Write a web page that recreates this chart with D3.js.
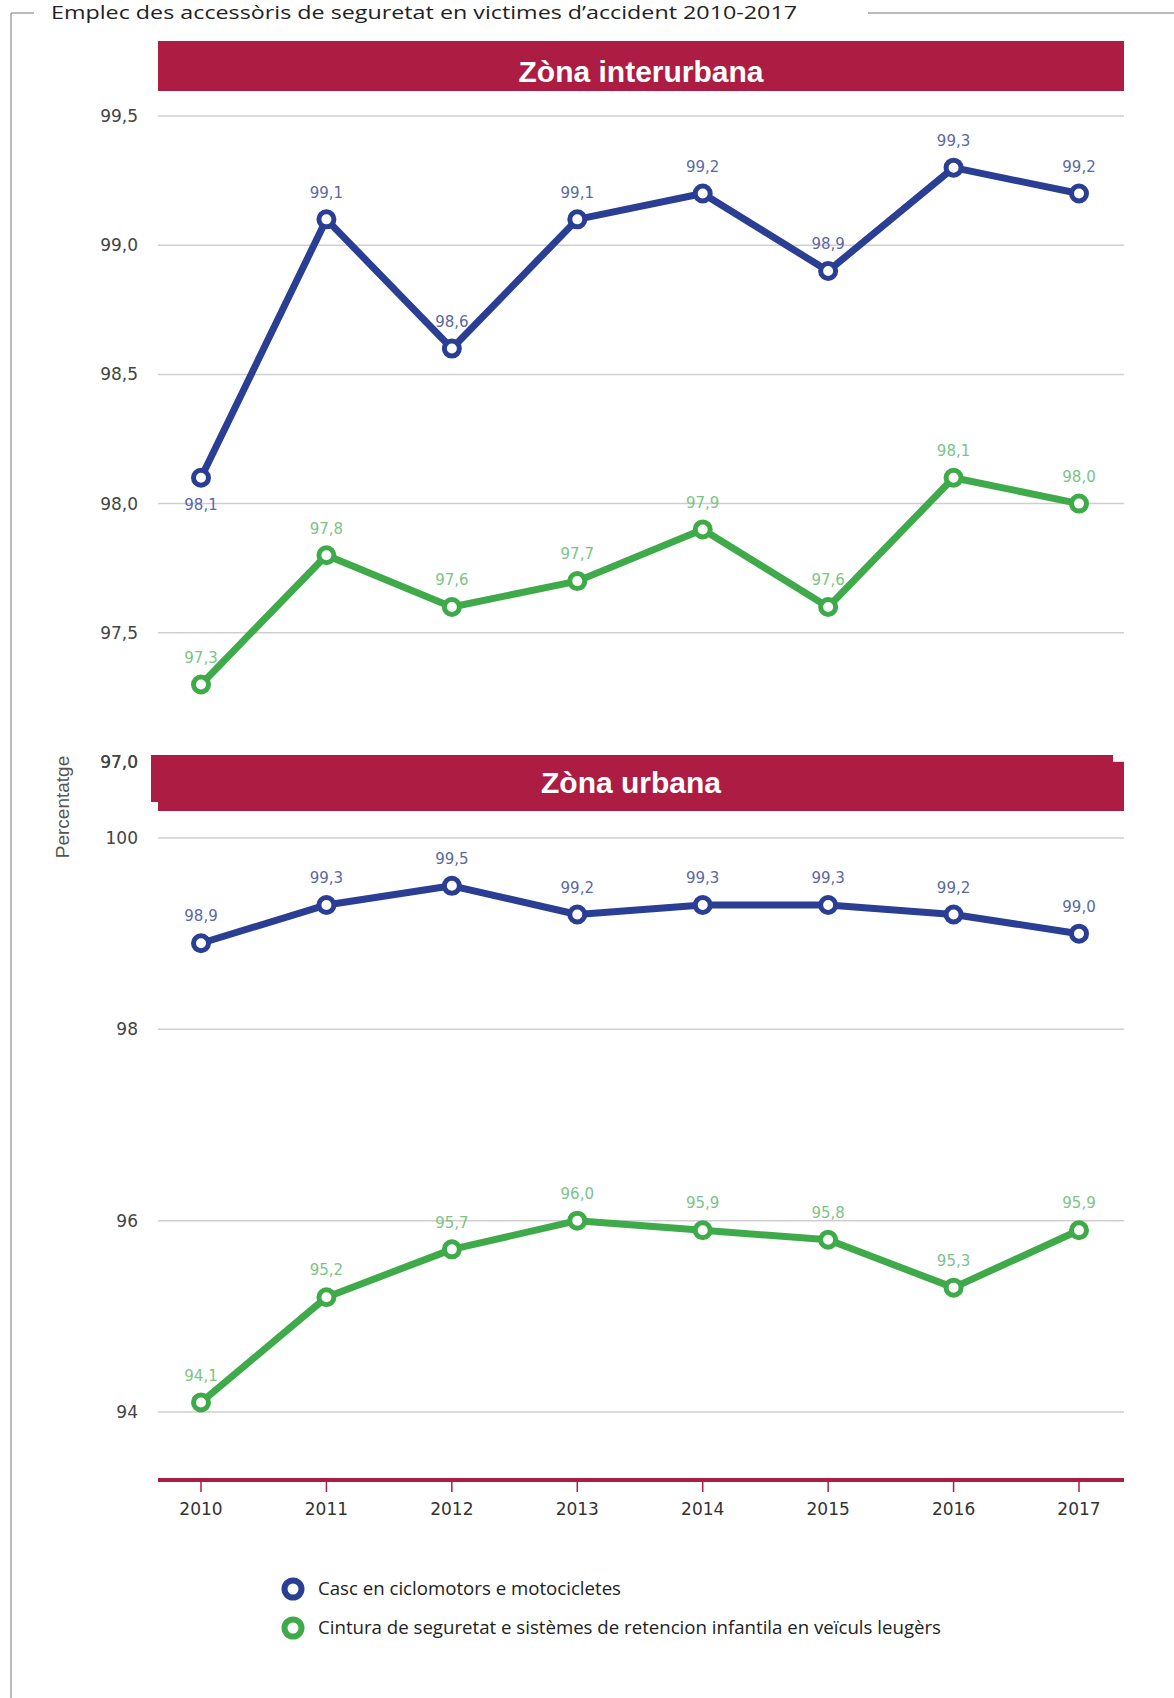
<!DOCTYPE html>
<html><head><meta charset="utf-8">
<script src="https://cdn.jsdelivr.net/npm/d3@7/dist/d3.min.js"></script>
<style>
html,body{margin:0;padding:0;background:#fff;}
svg{display:block;}
</style></head>
<body>
<script>
const years = ["2010","2011","2012","2013","2014","2015","2016","2017"];
const interBlue = [98.1, 99.1, 98.6, 99.1, 99.2, 98.9, 99.3, 99.2];
const interGreen = [97.3, 97.8, 97.6, 97.7, 97.9, 97.6, 98.1, 98.0];
const urbanBlue = [98.9, 99.3, 99.5, 99.2, 99.3, 99.3, 99.2, 99.0];
const urbanGreen = [94.1, 95.2, 95.7, 96.0, 95.9, 95.8, 95.3, 95.9];
const interTicks = [97.0, 97.5, 98.0, 98.5, 99.0, 99.5];
const urbanTicks = [94, 96, 98, 100];
const seriesNames = ["Casc en ciclomotors e motocicletes",
  "Cintura de seguretat e sistèmes de retencion infantila en veïculs leugèrs"];
const title = "Emplec des accessòris de seguretat en victimes d\u2019accident 2010-2017";
const panelTitles = ["Zòna interurbana", "Zòna urbana"];
const yLabel = "Percentatge";

const W = 1174, H = 1698;
const RED = "#ad1c43", BLUE = "#2a3e93", GREEN = "#3eaa4a";
const BLUE_L = "#5a68a3", GREEN_L = "#7cc486";
const plotL = 158, plotR = 1124;

const svg = d3.select("body").append("svg").attr("width", W).attr("height", H);

// frame
svg.append("path").attr("d", `M34,13 H11 V${H}`).attr("fill","none").attr("stroke","#777").attr("stroke-width",1);
svg.append("line").attr("x1",868).attr("x2",W).attr("y1",13).attr("y2",13).attr("stroke","#777");
svg.append("text").attr("x",51).attr("y",19).attr("font-family","'Open Sans', sans-serif")
  .attr("font-size",19).attr("fill","#222").attr("textLength",746).attr("lengthAdjust","spacingAndGlyphs").text(title);

const x = d3.scalePoint().domain(years).range([201, 1079]);
const yTop = d3.scaleLinear().domain([97, 99.5]).range([762, 116]);
const yBot = d3.scaleLinear().domain([94, 100]).range([1412, 838]);

function fmt(v, d){ return v.toFixed(d).replace(".", ","); }

function gridAxis(y, ticks, dec){
  const g = svg.append("g");
  g.selectAll("line").data(ticks).join("line")
    .attr("x1", plotL).attr("x2", plotR)
    .attr("y1", d=>y(d)).attr("y2", d=>y(d))
    .attr("stroke","#cfcfcf").attr("stroke-width",1.5);
  g.selectAll("text").data(ticks).join("text")
    .attr("x", 138).attr("y", d=>y(d)).attr("dy","0.35em")
    .attr("text-anchor","end").attr("font-family","'DejaVu Sans', sans-serif")
    .attr("font-size",17).attr("fill","#444").text(d=>fmt(d, dec));
}

function series(y, vals, color, lcolor, below){
  const line = d3.line().x((d,i)=>x(years[i])).y(d=>y(d));
  svg.append("path").datum(vals).attr("d", line).attr("fill","none")
    .attr("stroke", color).attr("stroke-width",7).attr("stroke-linejoin","round");
  svg.append("g").selectAll("circle").data(vals).join("circle")
    .attr("cx",(d,i)=>x(years[i])).attr("cy", d=>y(d)).attr("r",7.5)
    .attr("fill","#fff").attr("stroke", color).attr("stroke-width",5);
  svg.append("g").selectAll("text").data(vals).join("text")
    .attr("x",(d,i)=>x(years[i]))
    .attr("y",(d,i)=> below.includes(i) ? y(d)+27 : y(d)-27)
    .attr("dy","0.35em").attr("text-anchor","middle")
    .attr("font-family","'DejaVu Sans', sans-serif").attr("font-size",15)
    .attr("fill", lcolor).text(d=>fmt(d,1));
}

gridAxis(yTop, interTicks, 1);
gridAxis(yBot, urbanTicks, 0);

// panel headers
svg.append("rect").attr("x",plotL).attr("y",41).attr("width",plotR-plotL).attr("height",50).attr("fill",RED);
svg.append("text").attr("x",(plotL+plotR)/2).attr("y",71).attr("dy","0.35em").attr("text-anchor","middle")
  .attr("font-family","'Liberation Sans Narrow','Liberation Sans', sans-serif").attr("font-weight","bold")
  .attr("font-size",30).attr("fill","#fff").text(panelTitles[0]);

series(yTop, interBlue, BLUE, BLUE_L, [0]);
series(yTop, interGreen, GREEN, GREEN_L, []);
series(yBot, urbanBlue, BLUE, BLUE_L, []);
series(yBot, urbanGreen, GREEN, GREEN_L, []);

svg.append("rect").attr("x",151).attr("y",755).attr("width",1113-151).attr("height",47).attr("fill",RED);
svg.append("rect").attr("x",plotL).attr("y",762).attr("width",plotR-plotL).attr("height",49).attr("fill",RED);
svg.append("text").attr("x",631).attr("y",782).attr("dy","0.35em").attr("text-anchor","middle")
  .attr("font-family","'Liberation Sans Narrow','Liberation Sans', sans-serif").attr("font-weight","bold")
  .attr("font-size",30).attr("fill","#fff").text(panelTitles[1]);
svg.append("text").attr("x",138).attr("y",yTop(97)).attr("dy","0.35em").attr("text-anchor","end")
  .attr("font-family","'DejaVu Sans', sans-serif").attr("font-size",17).attr("fill","#444").text(fmt(97,1));

// x axis
const xg = svg.append("g");
xg.append("line").attr("x1",plotL).attr("x2",plotR).attr("y1",1480).attr("y2",1480).attr("stroke",RED).attr("stroke-width",4);
xg.selectAll("line.t").data(years).join("line").attr("class","t")
  .attr("x1",d=>x(d)).attr("x2",d=>x(d)).attr("y1",1480).attr("y2",1492).attr("stroke",RED).attr("stroke-width",1.5);
xg.selectAll("text").data(years).join("text")
  .attr("x",d=>x(d)).attr("y",1509).attr("dy","0.35em").attr("text-anchor","middle")
  .attr("font-family","'DejaVu Sans', sans-serif").attr("font-size",17).attr("fill","#333").text(d=>d);

// y label
svg.append("text").attr("transform","translate(62,807) rotate(-90)").attr("text-anchor","middle")
  .attr("dy","0.35em").attr("font-family","'Liberation Sans', sans-serif").attr("font-size",19)
  .attr("fill","#555").text(yLabel);

// legend
const lg = svg.append("g");
const legColors = [BLUE, GREEN];
const legLens = [303, 623];
seriesNames.forEach((n,i)=>{
  const cy = 1589 + i*39;
  lg.append("circle").attr("cx",293).attr("cy",cy).attr("r",8.5).attr("fill","#fff")
    .attr("stroke",legColors[i]).attr("stroke-width",6);
  lg.append("text").attr("x",318).attr("y",cy).attr("dy","0.35em")
    .attr("font-family","'Open Sans', sans-serif").attr("font-size",18).attr("fill","#222")
    .attr("textLength",legLens[i]).attr("lengthAdjust","spacingAndGlyphs").text(n);
});
</script>
</body></html>
